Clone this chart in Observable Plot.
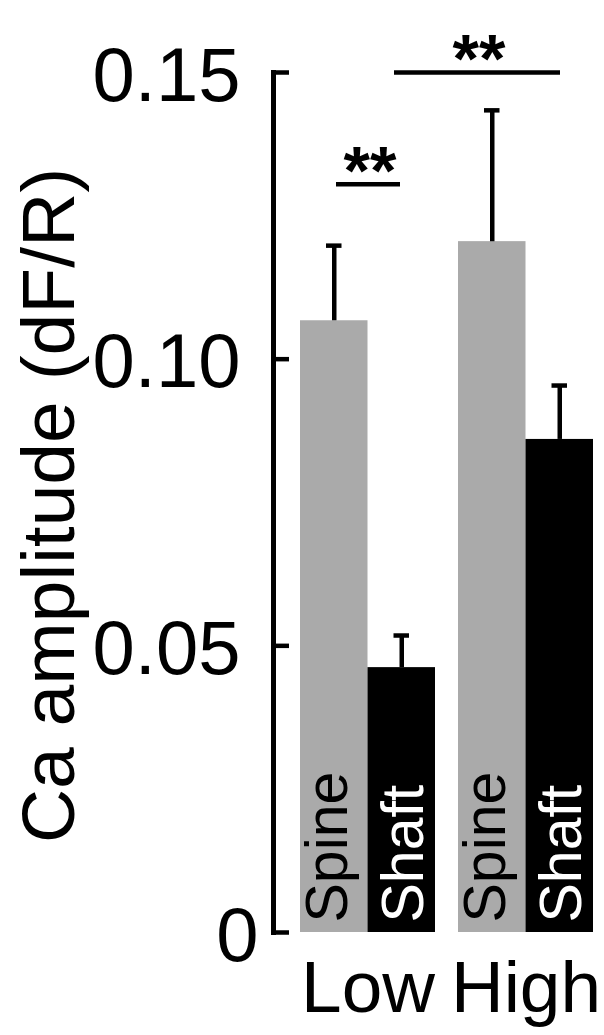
<!DOCTYPE html>
<html>
<head>
<meta charset="utf-8">
<script src="https://cdn.jsdelivr.net/npm/d3@7"></script>
<script src="https://cdn.jsdelivr.net/npm/@observablehq/plot@0.6"></script>
<style>
  html, body { margin: 0; padding: 0; background: #fff; }
  #chart svg { display: block; }
</style>
</head>
<body>
<div id="chart"></div>
<script>
// ---- data ----
const conditions = ["Low", "High"];
const types = ["Spine", "Shaft"];
const spineMean = [0.1067, 0.1205];
const spineSem = [0.0131, 0.0229];
const shaftMean = [0.0462, 0.0860];
const shaftSem = [0.0056, 0.0094];
const yTicks = [0, 0.05, 0.10, 0.15];
const yTickLabels = ["0", "0.05", "0.10", "0.15"];
const yTitle = "Ca amplitude (dF/R)";
// significance comparisons
const sigFromCond = ["Low", "Low"];
const sigFromType = ["Spine", "Shaft"];
const sigToCond = ["Low", "High"];
const sigToType = ["Shaft", "Shaft"];
const sigY = [0.1305, 0.15];
const sigText = ["**", "**"];

// ---- tables built from the arrays ----
const means = {Spine: spineMean, Shaft: shaftMean};
const sems = {Spine: spineSem, Shaft: shaftSem};
const slot = (c, t) => `${c} ${t}`;
const slots = conditions.flatMap(c => types.map(t => slot(c, t)));
const rows = conditions.flatMap((c, i) => types.map(t => ({
  cond: c, type: t, slot: slot(c, t), mean: means[t][i], sem: sems[t][i]
})));
const sigs = sigY.map((y, i) => ({
  x1: slot(sigFromCond[i], sigFromType[i]),
  x2: slot(sigToCond[i], sigToType[i]),
  y, text: sigText[i]
}));

// ---- styles ----
const FONT = "'Liberation Sans', Arial, Helvetica, sans-serif";
const LW = 4.5;
const barColors = ["#aaaaaa", "#000000"];
const groupShift = {Low: 0, High: 23};
const labelColor = {Spine: "#000000", Shaft: "#ffffff"};
const labelDx = {Spine: -6, Shaft: 2};
const sigStyle = [
  {insetLeft: 36, insetRight: 35, textDx: 35.75},
  {insetLeft: 26.5, insetRight: 10, textDx: 77.25}
];

const marks = [];
for (const c of conditions) {
  const sub = rows.filter(d => d.cond === c);
  const dx = groupShift[c];
  marks.push(
    Plot.barY(sub, {x: "slot", y: "mean", fill: "type", dx}),
    Plot.ruleX(sub, {x: "slot", y1: "mean", y2: d => d.mean + d.sem, stroke: "#000", strokeWidth: LW, dx}),
    Plot.tickY(sub, {x: "slot", y: d => d.mean + d.sem, stroke: "#000", strokeWidth: LW, inset: 26, dx})
  );
  for (const t of types) {
    marks.push(Plot.text(sub.filter(d => d.type === t), {
      x: "slot", text: "type", frameAnchor: "bottom", rotate: -90,
      textAnchor: "start", lineAnchor: "middle", fill: labelColor[t],
      fontSize: 59, fontFamily: FONT, dx: dx + labelDx[t], dy: -10
    }));
  }
  marks.push(Plot.text([c], {
    x: d => slot(d, types[0]), text: d => d, frameAnchor: "bottom",
    textAnchor: "middle", lineAnchor: "top", fontSize: 73, fontFamily: FONT, fill: "#000",
    dx: dx + 33.75, dy: 28
  }));
}
sigs.forEach((s, i) => {
  const st = sigStyle[i];
  marks.push(
    Plot.ruleY([s], {x1: "x1", x2: "x2", y: "y", stroke: "#000", strokeWidth: LW,
      insetLeft: st.insetLeft, insetRight: st.insetRight}),
    Plot.text([s], {x: "x1", y: "y", text: "text", fontSize: 68, fontWeight: "bold", fontFamily: FONT,
      fill: "#000", textAnchor: "middle", lineAnchor: "middle", dx: st.textDx, dy: -12})
  );
});
const fmt = d => yTickLabels[yTicks.indexOf(d)];
marks.push(
  Plot.frame({anchor: "left", stroke: "#000", strokeWidth: 5, strokeLinecap: "square"}),
  Plot.axisY(yTicks, {tickSize: 16, dx: 16, stroke: "#000", strokeWidth: LW, fill: "none", label: null}),
  Plot.axisY(yTicks.filter(v => v !== 0), {tickSize: 0, tickPadding: 33, tickFormat: fmt,
    fontSize: 76, fontFamily: FONT, fill: "#000", dy: 4, label: null}),
  Plot.axisY([0], {tickSize: 0, tickPadding: 15, tickFormat: fmt,
    fontSize: 76, fontFamily: FONT, fill: "#000", dy: 4, label: null}),
  Plot.text([yTitle], {frameAnchor: "left", text: d => d, rotate: -90,
    textAnchor: "middle", lineAnchor: "middle",
    fontSize: 75, fontFamily: FONT, fill: "#000", dx: -224, dy: 3})
);

const chart = Plot.plot({
  width: 604,
  height: 1035,
  marginLeft: 273,
  marginRight: 11,
  marginTop: 72,
  marginBottom: 103,
  style: {fontFamily: FONT, background: "#fff", overflow: "visible"},
  x: {type: "band", domain: slots, padding: 0, round: false, insetLeft: 27, insetRight: 23, axis: null},
  y: {domain: [0, 0.15], axis: null, label: null},
  color: {domain: types, range: barColors},
  marks
});
document.getElementById("chart").appendChild(chart);
</script>
</body>
</html>
